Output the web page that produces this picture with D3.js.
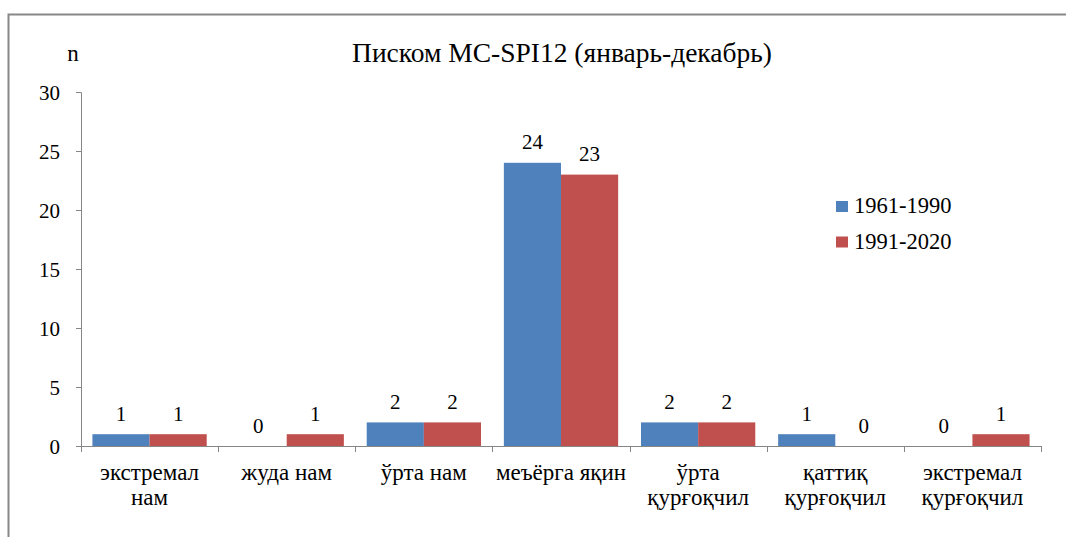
<!DOCTYPE html>
<html>
<head>
<meta charset="utf-8">
<script src="https://cdn.jsdelivr.net/npm/d3@7"></script>
<style>
  body { margin: 0; background: #fff; }
  svg { display: block; }
</style>
</head>
<body>
<svg id="chart" width="1066" height="537"></svg>
<script>
// Chart data
const CATEGORIES = [
    ['экстремал', 'нам'],
    ['жуда нам'],
    ['ўрта нам'],
    ['меъёрга яқин'],
    ['ўрта', 'қурғоқчил'],
    ['қаттиқ', 'қурғоқчил'],
    ['экстремал', 'қурғоқчил']
];
const SERIES_NAMES = ['1961-1990', '1991-2020'];
const VALUES_1961 = [1, 0, 2, 24, 2, 1, 0];
const VALUES_1991 = [1, 1, 2, 23, 2, 0, 1];
const Y_TICKS = [0, 5, 10, 15, 20, 25, 30];
const COLORS = ['#4F81BD', '#C0504D'];
const FONT = '"Times New Roman", "Liberation Serif", serif';
const AXIS_COLOR = '#868686';

const svg = d3.select('#chart');

// Outer frame
svg.append('rect')
    .attr('x', 8.5).attr('y', 14.5)
    .attr('width', 1070).attr('height', 540)
    .attr('fill', 'none')
    .attr('stroke', '#888')
    .attr('stroke-width', 2);

// Plot area
const plotLeft = 81, plotRight = 1041, plotTop = 92, plotBottom = 446;

const x0 = d3.scaleBand()
    .domain(d3.range(CATEGORIES.length))
    .range([plotLeft, plotRight]);

const x1 = d3.scaleBand()
    .domain([0, 1])
    .range([0, x0.bandwidth()])
    .paddingOuter(0.2);

const y = d3.scaleLinear()
    .domain([0, 30])
    .range([plotBottom, plotTop]);

// Y axis
const yAxis = svg.append('g')
    .attr('transform', `translate(${plotLeft},0)`)
    .call(d3.axisLeft(y).tickValues(Y_TICKS).tickSize(5).tickSizeOuter(5).tickPadding(16));
yAxis.attr('font-family', null).attr('font-size', null);
yAxis.selectAll('path, line').attr('stroke', AXIS_COLOR);
yAxis.selectAll('text')
    .attr('dy', '0.35em')
    .attr('fill', '#000')
    .style('font-family', FONT)
    .style('font-size', '21px');

// Bars
const series = [VALUES_1961, VALUES_1991];
series.forEach((vals, s) => {
    const g = svg.append('g');
    g.selectAll('rect')
        .data(vals)
        .join('rect')
        .attr('x', (d, i) => x0(i) + x1(s))
        .attr('y', d => y(d))
        .attr('width', x1.bandwidth())
        .attr('height', d => plotBottom - y(d))
        .attr('fill', COLORS[s]);

    g.selectAll('text')
        .data(vals)
        .join('text')
        .attr('x', (d, i) => x0(i) + x1(s) + x1.bandwidth() / 2)
        .attr('y', d => y(d) - 13.5)
        .attr('text-anchor', 'middle')
        .style('font-family', FONT)
        .style('font-size', '21px')
        .text(d => d);
});

// X axis
const xAxisG = svg.append('g')
    .attr('transform', `translate(0,${plotBottom})`);
xAxisG.append('path')
    .attr('d', `M${plotLeft},0.5H${plotRight}`)
    .attr('stroke', AXIS_COLOR);
const tickPos = d3.range(CATEGORIES.length + 1).map(i => plotLeft + i * x0.bandwidth());
xAxisG.selectAll('line')
    .data(tickPos)
    .join('line')
    .attr('x1', d => Math.round(d) + 0.5).attr('x2', d => Math.round(d) + 0.5)
    .attr('y1', 0).attr('y2', 6)
    .attr('stroke', AXIS_COLOR);

// Category labels
CATEGORIES.forEach((lines, i) => {
    const cx = x0(i) + x0.bandwidth() / 2;
    const t = svg.append('text')
        .attr('x', cx)
        .attr('y', 480)
        .attr('text-anchor', 'middle')
        .style('font-family', FONT)
        .style('font-size', '23px');
    lines.forEach((ln, j) => {
        t.append('tspan')
            .attr('x', cx)
            .attr('dy', j === 0 ? 0 : 25)
            .text(ln);
    });
});

// Title and axis label
svg.append('text')
    .attr('x', 562).attr('y', 62)
    .attr('text-anchor', 'middle')
    .style('font-family', FONT)
    .style('font-size', '27.5px')
    .text('Писком MC-SPI12 (январь-декабрь)');

svg.append('text')
    .attr('x', 73).attr('y', 61)
    .attr('text-anchor', 'middle')
    .style('font-family', FONT)
    .style('font-size', '23px')
    .text('n');

// Legend
const legend = svg.append('g').attr('transform', 'translate(836,201)');
SERIES_NAMES.forEach((name, i) => {
    const row = legend.append('g').attr('transform', `translate(0,${i * 35.5})`);
    row.append('rect')
        .attr('width', 12).attr('height', 11)
        .attr('fill', COLORS[i]);
    row.append('text')
        .attr('x', 18).attr('y', 12)
        .style('font-family', FONT)
        .style('font-size', '22.5px')
        .text(name);
});
</script>
</body>
</html>
